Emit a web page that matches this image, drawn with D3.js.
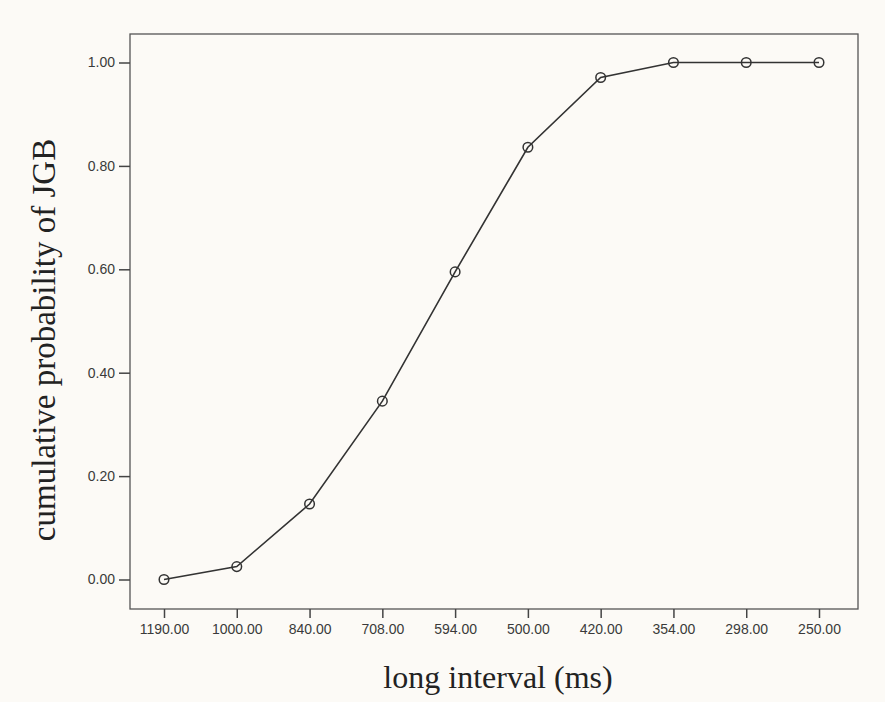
<!DOCTYPE html>
<html>
<head>
<meta charset="utf-8">
<script src="https://cdn.jsdelivr.net/npm/d3@7"></script>
<style>
  body { margin: 0; background: #fcfaf6; }
</style>
</head>
<body>
<svg></svg>
<script>
window.onload = () => {

  const width = 885;
  const height = 702;

  // data
  const intervals = ['1190.00', '1000.00', '840.00', '708.00', '594.00', '500.00', '420.00', '354.00', '298.00', '250.00'];
  const probability = [0.0, 0.025, 0.146, 0.345, 0.595, 0.836, 0.971, 1.0, 1.0, 1.0];
  const yTicks = [0, 0.2, 0.4, 0.6, 0.8, 1.0];

  const data = intervals.map((d, i) => ({label: d, value: probability[i]}));

  const frame = {left: 130, right: 858, top: 34, bottom: 609};

  const svg = d3.select('svg').attr('width', width).attr('height', height);

  svg.append('rect')
    .attr('width', width).attr('height', height)
    .attr('fill', '#fcfaf6');

  const xScale = d3.scalePoint().domain(intervals).range([164, 819]);
  const yScale = d3.scaleLinear().domain([0, 1]).range([579.5, 62.5]);

  // plot frame
  svg.append('rect')
    .attr('x', frame.left).attr('y', frame.top)
    .attr('width', frame.right - frame.left)
    .attr('height', frame.bottom - frame.top)
    .attr('fill', 'none')
    .attr('stroke', '#555')
    .attr('stroke-width', 1.3);

  const xAxis = svg.append('g')
    .attr('class', 'axisX')
    .attr('transform', 'translate(0,' + frame.bottom + ')')
    .call(d3.axisBottom(xScale).tickSizeInner(9).tickSizeOuter(0).tickPadding(6));

  const yAxis = svg.append('g')
    .attr('class', 'axisY')
    .attr('transform', 'translate(' + frame.left + ',0)')
    .call(d3.axisLeft(yScale).tickValues(yTicks).tickFormat(d3.format('.2f'))
      .tickSizeInner(11).tickSizeOuter(0).tickPadding(4));

  [xAxis, yAxis].forEach(a => {
    a.select('.domain').remove();
    a.selectAll('line').attr('stroke', '#444').attr('stroke-width', 1.5);
    a.selectAll('text')
      .attr('fill', '#3a3a3a')
      .style('font-family', '"Liberation Sans", Arial, sans-serif')
      .style('font-size', '14px');
  });

  const line = d3.line()
    .x(d => xScale(d.label))
    .y(d => yScale(d.value));

  svg.append('path')
    .datum(data)
    .attr('d', line)
    .attr('fill', 'none')
    .attr('stroke', '#333')
    .attr('stroke-width', 1.6);

  svg.selectAll('.point')
    .data(data)
    .enter()
    .append('circle')
    .attr('class', 'point')
    .attr('cx', d => xScale(d.label))
    .attr('cy', d => yScale(d.value))
    .attr('r', 4.8)
    .attr('fill', 'none')
    .attr('stroke', '#333')
    .attr('stroke-width', 1.5);

  // axis titles
  svg.append('text')
    .attr('x', 498)
    .attr('y', 688)
    .attr('text-anchor', 'middle')
    .attr('fill', '#222')
    .style('font-family', '"Liberation Serif", "Times New Roman", serif')
    .style('font-size', '32px')
    .text('long interval (ms)');

  svg.append('text')
    .attr('transform', 'translate(55,340) rotate(-90)')
    .attr('text-anchor', 'middle')
    .attr('fill', '#222')
    .style('font-family', '"Liberation Serif", "Times New Roman", serif')
    .style('font-size', '33px')
    .text('cumulative probability of JGB');

};
</script>
</body>
</html>
